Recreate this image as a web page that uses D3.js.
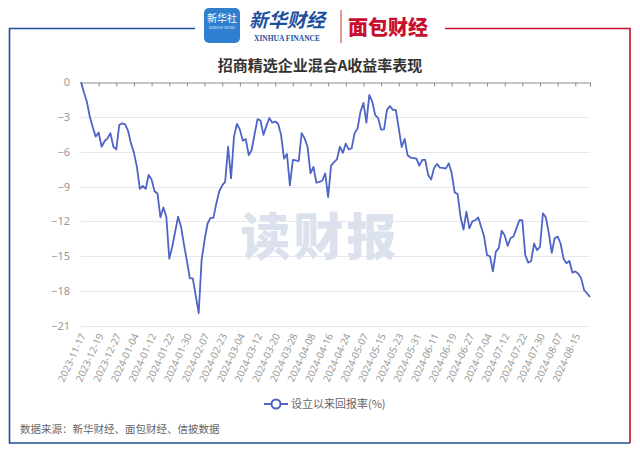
<!DOCTYPE html>
<html>
<head>
<meta charset="utf-8">
<script src="https://cdn.jsdelivr.net/npm/d3@7"></script>
<style>
  html, body { margin: 0; padding: 0; background: #fff; }
  svg { display: block; font-family: "Noto Sans CJK SC", "Noto Sans", sans-serif; }
</style>
</head>
<body>
<div id="chart"></div>
<script>
// labels shown on the category axis, one every 6 points
const tickLabels = [
  '2023-11-17', '2023-12-19', '2023-12-27', '2024-01-04', '2024-01-12', '2024-01-22',
  '2024-01-30', '2024-02-07', '2024-02-23', '2024-03-04', '2024-03-12', '2024-03-20',
  '2024-03-28', '2024-04-08', '2024-04-16', '2024-04-24', '2024-05-07', '2024-05-15',
  '2024-05-23', '2024-05-31', '2024-06-11', '2024-06-19', '2024-06-27', '2024-07-04',
  '2024-07-12', '2024-07-22', '2024-07-30', '2024-08-07', '2024-08-15'
];
const labelStep = 6;

// 设立以来回报率(%)
const returns = [
  0, -0.9, -1.7, -3.0, -3.9, -4.7, -4.35, -5.57, -5.1, -4.85,
  -4.4, -5.57, -5.8, -3.7, -3.56, -3.64, -4.2, -5.3, -6.1, -7.3,
  -9.2, -8.95, -9.2, -8.0, -8.4, -9.4, -9.6, -11.65, -10.8, -11.6,
  -15.2, -14.2, -12.9, -11.6, -12.45, -14.0, -15.4, -16.9, -16.9, -18.4,
  -19.9, -15.3, -13.6, -12.2, -11.7, -11.7, -10.45, -9.4, -8.9, -8.6,
  -5.57, -8.3, -4.7, -3.6, -4.1, -5.05, -4.9, -6.3, -5.85, -4.5,
  -3.2, -3.3, -4.55, -3.8, -3.1, -3.5, -3.4, -3.6, -4.55, -6.6,
  -6.2, -8.9, -6.7, -6.75, -6.8, -4.4, -4.85, -5.57, -7.86, -7.3,
  -8.67, -8.6, -8.5, -7.86, -9.9, -7.2, -6.9, -6.65, -5.57, -6.1,
  -5.3, -5.8, -5.7, -4.4, -4.0, -2.55, -1.8, -3.5, -1.1, -1.7,
  -2.85, -3.1, -4.1, -4.07, -2.4, -2.07, -2.4, -2.4, -4.0, -5.6,
  -4.9, -6.3, -6.5, -6.55, -6.6, -7.2, -6.7, -6.7, -8.0, -8.4,
  -7.4, -7.05, -7.37, -7.4, -7.46, -7.0, -7.86, -9.5, -9.64, -11.6,
  -12.7, -11.16, -12.6, -12.0, -11.9, -11.65, -12.45, -13.3, -14.9, -15.0,
  -16.3, -14.6, -14.3, -12.8, -13.2, -14.1, -13.45, -13.3, -12.6, -11.9,
  -11.9, -14.9, -15.55, -15.4, -13.9, -14.46, -14.2, -11.3, -11.65, -13.0,
  -14.7, -13.45, -13.3, -13.9, -15.2, -15.6, -15.4, -16.4, -16.3, -16.5,
  -16.9, -17.9, -18.2, -18.5
];
const yTicks = [0, -3, -6, -9, -12, -15, -18, -21];

const W = 640, H = 453;
const blue = '#1f4e96', red = '#c8102e', lineColor = '#4e64c6';

const svg = d3.select('#chart').append('svg')
  .attr('width', W).attr('height', H);

// frame: blue left/bottom, red right
svg.append('path').attr('fill', 'none').attr('stroke', blue).attr('stroke-width', 1.6)
  .attr('d', 'M195,28.5 H9.5 V443 H630');
svg.append('path').attr('fill', 'none').attr('stroke', red).attr('stroke-width', 1.6)
  .attr('d', 'M445,28.5 H630 V443');

// header logos (text stand-ins)
const logo = svg.append('g');
logo.append('rect').attr('x', 204).attr('y', 8).attr('width', 36).attr('height', 35)
  .attr('rx', 5).attr('fill', '#2f7fd0');
logo.append('text').attr('x', 222).attr('y', 22).attr('text-anchor', 'middle')
  .attr('fill', '#fff').attr('font-size', 10).text('新华社');
logo.append('text').attr('x', 222).attr('y', 29).attr('text-anchor', 'middle')
  .attr('fill', '#dbe9f8').attr('font-size', 4).text('XINHUA NEWS');
logo.append('text').attr('x', 287).attr('y', 27).attr('text-anchor', 'middle')
  .attr('fill', '#1d4f9c').attr('font-size', 19).attr('font-weight', 700)
  .attr('font-style', 'italic').text('新华财经');
logo.append('text').attr('x', 287).attr('y', 41).attr('text-anchor', 'middle')
  .attr('fill', '#1d4f9c').attr('font-size', 7.5).attr('font-weight', 700)
  .attr('font-family', 'Liberation Serif, serif').text('XINHUA FINANCE');
logo.append('line').attr('x1', 341).attr('x2', 341).attr('y1', 10).attr('y2', 43)
  .attr('stroke', '#c0392b').attr('stroke-width', 1);
logo.append('text').attr('x', 388).attr('y', 35).attr('text-anchor', 'middle')
  .attr('fill', '#c8102e').attr('font-size', 20).attr('font-weight', 900).text('面包财经');

// title
svg.append('text').attr('x', 320).attr('y', 71).attr('text-anchor', 'middle')
  .attr('fill', '#333').attr('font-size', 15).attr('font-weight', 700)
  .text('招商精选企业混合A收益率表现');

const x = d3.scaleLinear().domain([0, returns.length - 1]).range([81, 590]);
const y = d3.scaleLinear().domain([-21, 0]).range([326, 82]);

// grid lines
svg.append('g').selectAll('line').data(yTicks.filter(d => d !== 0)).join('line')
  .attr('x1', x(0)).attr('x2', x(returns.length - 1))
  .attr('y1', d => Math.round(y(d)) + 0.5).attr('y2', d => Math.round(y(d)) + 0.5)
  .attr('stroke', '#e6e8ee').attr('stroke-width', 1);

// watermark
svg.append('text').attr('x', 320).attr('y', 255).attr('text-anchor', 'middle')
  .attr('fill', '#dbe2ed').attr('font-size', 50).attr('font-weight', 900)
  .attr('letter-spacing', 3).text('读财报');

// y axis labels
const yAxis = svg.append('g').attr('transform', `translate(${x(0) - 8},0)`)
  .call(d3.axisLeft(y).tickValues(yTicks).tickSize(0).tickFormat(d3.format('d')));
yAxis.select('.domain').remove();
yAxis.selectAll('text').attr('fill', '#999').attr('font-size', 11)
  .attr('font-family', '"Noto Sans", sans-serif');

// x axis line sits on zero, ticks every 6 points plus the end
const tickIdx = tickLabels.map((d, i) => i * labelStep).concat([returns.length - 1]);
const xAxis = svg.append('g').attr('transform', `translate(0,${Math.round(y(0)) + 0.5})`)
  .call(d3.axisBottom(x).tickValues(tickIdx).tickSize(4).tickFormat(''));
xAxis.select('.domain').attr('stroke', '#8a8d96');
xAxis.selectAll('.tick line').attr('stroke', '#8a8d96');

// x labels under the plot, rotated
svg.append('g').selectAll('text').data(tickLabels).join('text')
  .attr('transform', (d, i) => `translate(${x(i * labelStep) + 2},${y(-21) + 8}) rotate(-65)`)
  .attr('text-anchor', 'end').attr('dy', '0.35em')
  .attr('fill', '#999').attr('font-size', 10)
  .attr('font-family', '"Noto Sans", sans-serif')
  .text(d => d);

// the line
const line = d3.line().x((d, i) => x(i)).y(d => y(d));
svg.append('path').datum(returns)
  .attr('fill', 'none').attr('stroke', lineColor).attr('stroke-width', 1.8)
  .attr('stroke-linejoin', 'round').attr('d', line);

// legend
const lg = svg.append('g').attr('transform', 'translate(276,404)');
lg.append('line').attr('x1', -12).attr('x2', 12).attr('stroke', lineColor).attr('stroke-width', 2);
lg.append('circle').attr('r', 4.5).attr('fill', '#fff').attr('stroke', lineColor).attr('stroke-width', 2);
lg.append('text').attr('x', 15).attr('dy', '0.35em').attr('fill', '#666').attr('font-size', 11)
  .text('设立以来回报率(%)');

// source
svg.append('text').attr('x', 20).attr('y', 433).attr('fill', '#666').attr('font-size', 10.5)
  .text('数据来源：新华财经、面包财经、信披数据');
</script>
</body>
</html>
